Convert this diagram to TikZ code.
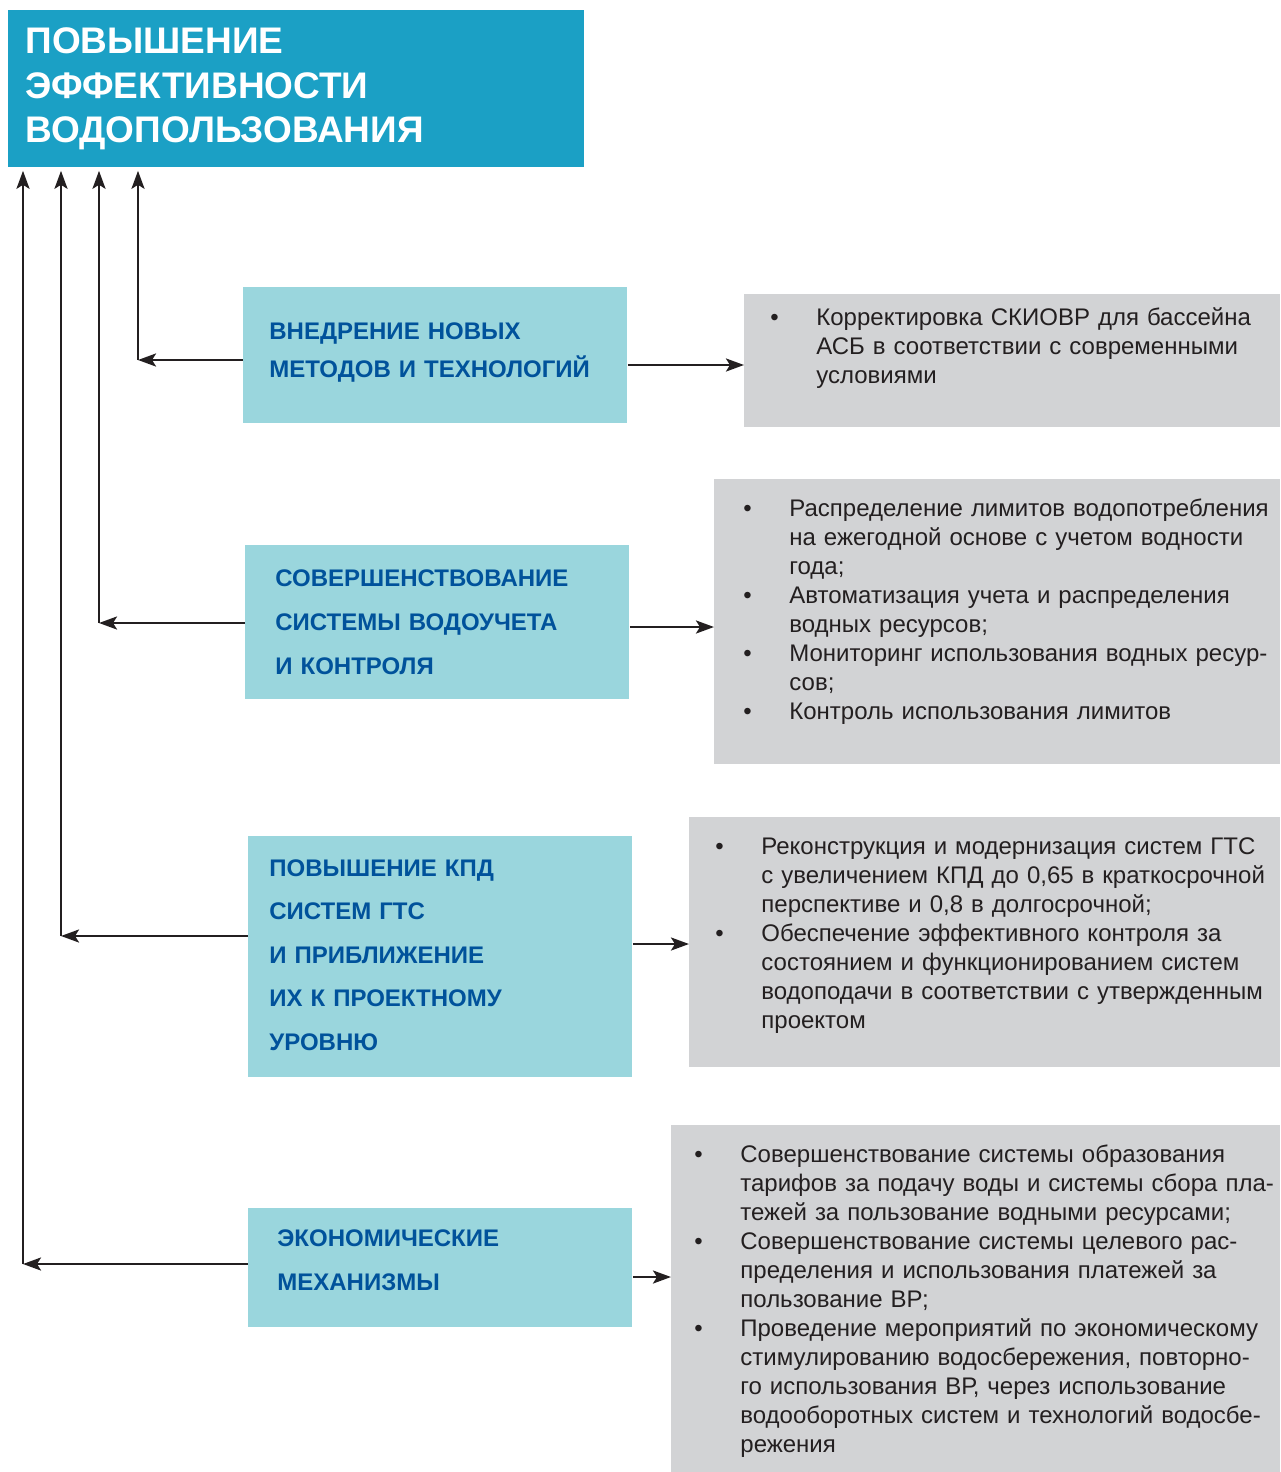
\documentclass[tikz,border=0pt]{standalone}
\usepackage{fontspec}
\setmainfont{Liberation Sans}
\usetikzlibrary{arrows.meta}

\definecolor{titleblue}{HTML}{1BA0C5}
\definecolor{boxblue}{HTML}{9AD6DD}
\definecolor{textblue}{HTML}{00529B}
\definecolor{boxgray}{HTML}{D2D3D5}
\definecolor{inkdark}{HTML}{231F20}

\newcommand\gitem[1]{\par\noindent\hangindent=23pt\hangafter=1\makebox[23pt][l]{\rule{0pt}{10pt}•}{\let\\\newline#1}\par}

\tikzset{
  titlebox/.style={anchor=north west, fill=titleblue, text=white, align=left,
    minimum width=288pt, minimum height=78.5pt, inner xsep=8.5pt, inner ysep=0pt,
    text width=271pt, font=\bfseries\fontsize{18.5}{22.25}\selectfont},
  bluebox/.style={anchor=north west, fill=boxblue, text=textblue, align=left,
    minimum width=192pt, inner ysep=0pt},
  graybox/.style={anchor=north west, fill=boxgray, inner sep=0pt},
  listtext/.style={anchor=north west, inner sep=0pt, text width=300pt, align=left,
    text=inkdark, font=\fontsize{12}{14.5}\selectfont},
  arr/.style={draw=inkdark, line width=1.3pt, -{Stealth[length=9pt,width=6.5pt,inset=2pt]}}
}

\begin{document}
\begin{tikzpicture}[x=0.5pt, y=-0.5pt]
\useasboundingbox (0,0) rectangle (1280,1472);

% main goal
\node[titlebox] (top) at (8,10) {ПОВЫШЕНИЕ\\ЭФФЕКТИВНОСТИ\\ВОДОПОЛЬЗОВАНИЯ};

% directions
\node[bluebox, minimum height=68pt, inner xsep=13pt, text width=166pt,
  font=\bfseries\fontsize{12}{19}\selectfont] (b1) at (243,287)
  {ВНЕДРЕНИЕ НОВЫХ\\МЕТОДОВ И ТЕХНОЛОГИЙ\rule[-5.5pt]{0pt}{1pt}};
\node[bluebox, minimum height=77pt, inner xsep=15pt, text width=162pt,
  font=\bfseries\fontsize{12}{22}\selectfont] (b2) at (245,545)
  {СОВЕРШЕНСТВОВАНИЕ\\СИСТЕМЫ ВОДОУЧЕТА\\И КОНТРОЛЯ};
\node[bluebox, minimum height=120.5pt, inner xsep=10.5pt, text width=171pt,
  font=\bfseries\fontsize{12}{21.75}\selectfont] (b3) at (248,836)
  {ПОВЫШЕНИЕ КПД\\СИСТЕМ ГТС\\И ПРИБЛИЖЕНИЕ\\ИХ К ПРОЕКТНОМУ\\УРОВНЮ\rule[-2pt]{0pt}{1pt}};
\node[bluebox, minimum height=59.5pt, inner xsep=14.5pt, text width=163pt,
  font=\bfseries\fontsize{12}{22}\selectfont] (b4) at (248,1208)
  {ЭКОНОМИЧЕСКИЕ\\МЕХАНИЗМЫ\rule[-8pt]{0pt}{1pt}};

% measures
\node[graybox, minimum width=268pt, minimum height=66.5pt] (g1) at (744,294) {};
\node[graybox, minimum width=283pt, minimum height=142.5pt] (g2) at (714,479) {};
\node[graybox, minimum width=295.5pt, minimum height=125pt] (g3) at (689,817) {};
\node[graybox, minimum width=304.5pt, minimum height=173.5pt] (g4) at (671,1125) {};

\node[listtext] (t1) at ([xshift=13pt,yshift=-1pt]g1.north west) {%
  \gitem{Корректировка СКИОВР для бассейна\\АСБ в соответствии с современными\\условиями}};
\node[listtext] (t2) at ([xshift=14.5pt,yshift=-4pt]g2.north west) {%
  \gitem{Распределение лимитов водопотребления\\на ежегодной основе с учетом водности\\года;}
  \gitem{Автоматизация учета и распределения\\водных ресурсов;}
  \gitem{Мониторинг использования водных ресур-\\сов;}
  \gitem{Контроль использования лимитов}};
\node[listtext] (t3) at ([xshift=13pt,yshift=-4pt]g3.north west) {%
  \gitem{Реконструкция и модернизация систем ГТС\\с увеличением КПД до 0,65 в краткосрочной\\перспективе и 0,8 в долгосрочной;}
  \gitem{Обеспечение эффективного контроля за\\состоянием и функционированием систем\\водоподачи в соответствии с утвержденным\\проектом}};
\node[listtext] (t4) at ([xshift=11.5pt,yshift=-4pt]g4.north west) {%
  \gitem{Совершенствование системы образования\\тарифов за подачу воды и системы сбора пла-\\тежей за пользование водными ресурсами;}
  \gitem{Совершенствование системы целевого рас-\\пределения и использования платежей за\\пользование ВР;}
  \gitem{Проведение мероприятий по экономическому\\стимулированию водосбережения, повторно-\\го использования ВР, через использование\\водооборотных систем и технологий водосбе-\\режения}};

% connectors
\coordinate (k1) at (138,360);
\coordinate (k2) at (99,623);
\coordinate (k3) at (61,936);
\coordinate (k4) at (23,1264);
\coordinate (r1) at (0,365);
\coordinate (r2) at (0,627);
\coordinate (r3) at (0,944);
\coordinate (r4) at (0,1277);
\foreach \i in {1,...,4} {
  \draw[arr] (b\i.west |- k\i) -- (k\i);
  \draw[arr, shorten >=1.5pt] (k\i) -- (k\i |- top.south);
  \draw[arr] (b\i.east |- r\i) -- (g\i.west |- r\i);
}
\end{tikzpicture}
\end{document}
